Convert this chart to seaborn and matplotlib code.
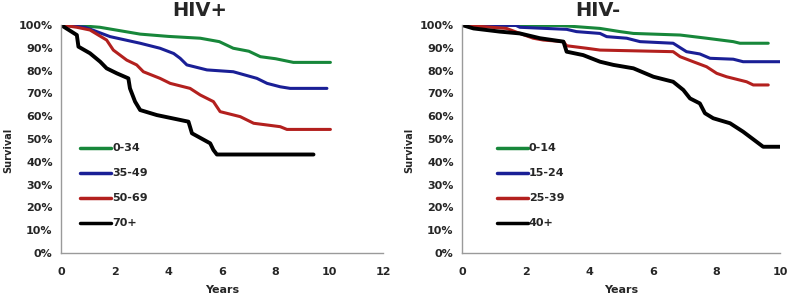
import matplotlib
matplotlib.use("Agg")
import matplotlib.pyplot as plt
import seaborn as sns
import pandas as pd
from matplotlib.ticker import PercentFormatter

# ---------------- data (HIV+) ----------------
pos_labels = ["0-34", "35-49", "50-69", "70+"]
pos_034_x = [0, 0.6, 1.45, 2.2, 2.95, 4.0, 5.19, 5.9, 6.42, 7.0, 7.43, 8.0, 8.66, 10.04]
pos_034_y = [100, 99.8, 99, 97.5, 96, 95, 94.2, 92.7, 89.8, 88.5, 86.1, 85.2, 83.6, 83.6]
pos_3549_x = [0, 0.9, 1.83, 2.95, 3.69, 4.2, 4.44, 4.69, 5.44, 6.42, 7.3, 7.68, 8.17, 8.54, 9.91]
pos_3549_y = [100, 99, 94.9, 92, 89.8, 87.5, 85.4, 82.5, 80.3, 79.5, 76.6, 74.4, 72.9, 72.2, 72.2]
pos_5069_x = [0, 0.59, 1.08, 1.7, 1.95, 2.45, 2.82, 3.07, 3.69, 4.07, 4.81, 5.19, 5.68, 5.93, 6.68, 7.18, 8.17, 8.42, 10.04]
pos_5069_y = [100, 99, 97.8, 93.4, 89, 84.6, 82.5, 79.5, 76.6, 74.4, 72.2, 69.3, 66.4, 62, 59.8, 56.9, 55.4, 54.2, 54.2]
pos_70_x = [0, 0.59, 0.65, 1.08, 1.46, 1.7, 2.08, 2.51, 2.57, 2.76, 2.95, 3.57, 4.75, 4.88, 5.56, 5.68, 5.81, 9.41]
pos_70_y = [100, 95.6, 90.5, 87.6, 83.9, 81, 78.8, 76.6, 72.2, 66.4, 62.7, 60.5, 57.6, 52.5, 48.1, 45.2, 43.2, 43.2]

# ---------------- data (HIV-) ----------------
neg_labels = ["0-14", "15-24", "25-39", "40+"]
neg_014_x = [0, 3.08, 4.34, 4.97, 5.39, 6.86, 7.69, 8.53, 8.74, 9.63]
neg_014_y = [100, 99.8, 98.5, 97.1, 96.3, 95.6, 94.2, 92.7, 92.0, 92.0]
neg_1524_x = [0, 1.7, 1.82, 3.29, 3.6, 4.34, 4.55, 5.18, 5.6, 6.64, 7.06, 7.48, 7.8, 8.53, 8.84, 10.0]
neg_1524_y = [100, 99.8, 99, 98.1, 97.1, 96.3, 94.9, 94.2, 92.7, 92, 88.3, 87.3, 85.4, 85, 83.9, 83.9]
neg_2539_x = [0, 1.4, 1.82, 2.24, 2.56, 3.19, 3.29, 3.92, 4.34, 6.64, 6.86, 7.27, 7.69, 8.01, 8.32, 8.95, 9.16, 9.63]
neg_2539_y = [100, 98.5, 96.3, 94.2, 93.4, 92.7, 90.9, 89.8, 89, 88.3, 86.1, 83.9, 81.7, 78.8, 77.3, 75.1, 73.7, 73.7]
neg_40_x = [0, 0.36, 1.19, 1.82, 2.45, 3.19, 3.29, 3.81, 4.34, 4.76, 5.39, 6.02, 6.64, 6.96, 7.17, 7.48, 7.64, 7.9, 8.43, 8.84, 9.47, 10.0]
neg_40_y = [100, 98.5, 97.1, 96.3, 94.2, 92.7, 88.3, 86.8, 83.9, 82.5, 81, 77.3, 75.1, 71.5, 67.8, 65.6, 61.3, 59.1, 56.9, 53.2, 46.6, 46.6]

colors = ["#17873a", "#1a1f96", "#b3201e", "#000000"]
widths = [2.2, 2.2, 2.2, 2.8]


def build(labels, xs, ys):
    frames = []
    for lab, x, y in zip(labels, xs, ys):
        frames.append(pd.DataFrame({"Years": x, "Survival": y, "group": lab}))
    return pd.concat(frames, ignore_index=True)


pos_df = build(pos_labels, [pos_034_x, pos_3549_x, pos_5069_x, pos_70_x],
               [pos_034_y, pos_3549_y, pos_5069_y, pos_70_y])
neg_df = build(neg_labels, [neg_014_x, neg_1524_x, neg_2539_x, neg_40_x],
               [neg_014_y, neg_1524_y, neg_2539_y, neg_40_y])

sns.set_style("white")
plt.rcParams["font.family"] = ["DejaVu Sans"]

fig = plt.figure(figsize=(7.87, 2.97), dpi=100)
ax1 = fig.add_axes([61 / 787, 1 - 253 / 297, 322 / 787, 228 / 297])
ax2 = fig.add_axes([462 / 787, 1 - 253 / 297, 318 / 787, 228 / 297])


def style(ax, df, labels, xmax, xticks, title, tx, legend_x, label_x):
    for lab, c, w in zip(labels, colors, widths):
        sns.lineplot(data=df[df["group"] == lab], x="Years", y="Survival", color=c,
                     linewidth=w, ax=ax, label=lab, sort=False, estimator=None)
    ax.set_xlim(0, xmax)
    ax.set_ylim(0, 100)
    ax.set_xticks(xticks)
    ax.set_yticks(range(0, 101, 10))
    ax.yaxis.set_major_formatter(PercentFormatter(decimals=0))
    for s in ["top", "right"]:
        ax.spines[s].set_visible(False)
    for s in ["left", "bottom"]:
        ax.spines[s].set_color("#9a9a9a")
        ax.spines[s].set_linewidth(1.0)
    ax.tick_params(axis="both", which="major", labelsize=8, length=4, width=1,
                   color="#9a9a9a", direction="out", pad=2)
    ax.tick_params(axis="x", pad=6)
    for t in ax.get_xticklabels() + ax.get_yticklabels():
        t.set_fontweight("bold")
    ax.set_xlabel("Years", fontsize=8, fontweight="bold", labelpad=6)
    ax.set_ylabel("Survival", fontsize=7, fontweight="bold", labelpad=3)
    ax.yaxis.set_label_coords(label_x, 0.45)
    fig.text(tx, 1 - 11 / 297, title, ha="center", va="center",
             fontsize=14, fontweight="bold")
    leg = ax.legend(loc="upper left", bbox_to_anchor=(legend_x, 0.50), frameon=False,
                    prop={"size": 8, "weight": "bold"}, handlelength=2.8,
                    handletextpad=0.1, labelspacing=1.35, borderaxespad=0)
    for h in leg.get_lines():
        h.set_linewidth(2.5)


style(ax1, pos_df, pos_labels, 12, range(0, 13, 2), "HIV+", 200 / 787, 0.045, -13 / 322 * 3.7)
style(ax2, neg_df, neg_labels, 10, range(0, 11, 2), "HIV-", 598 / 787, 0.095, -48 / 318)

fig.savefig("out.png", dpi=100)
